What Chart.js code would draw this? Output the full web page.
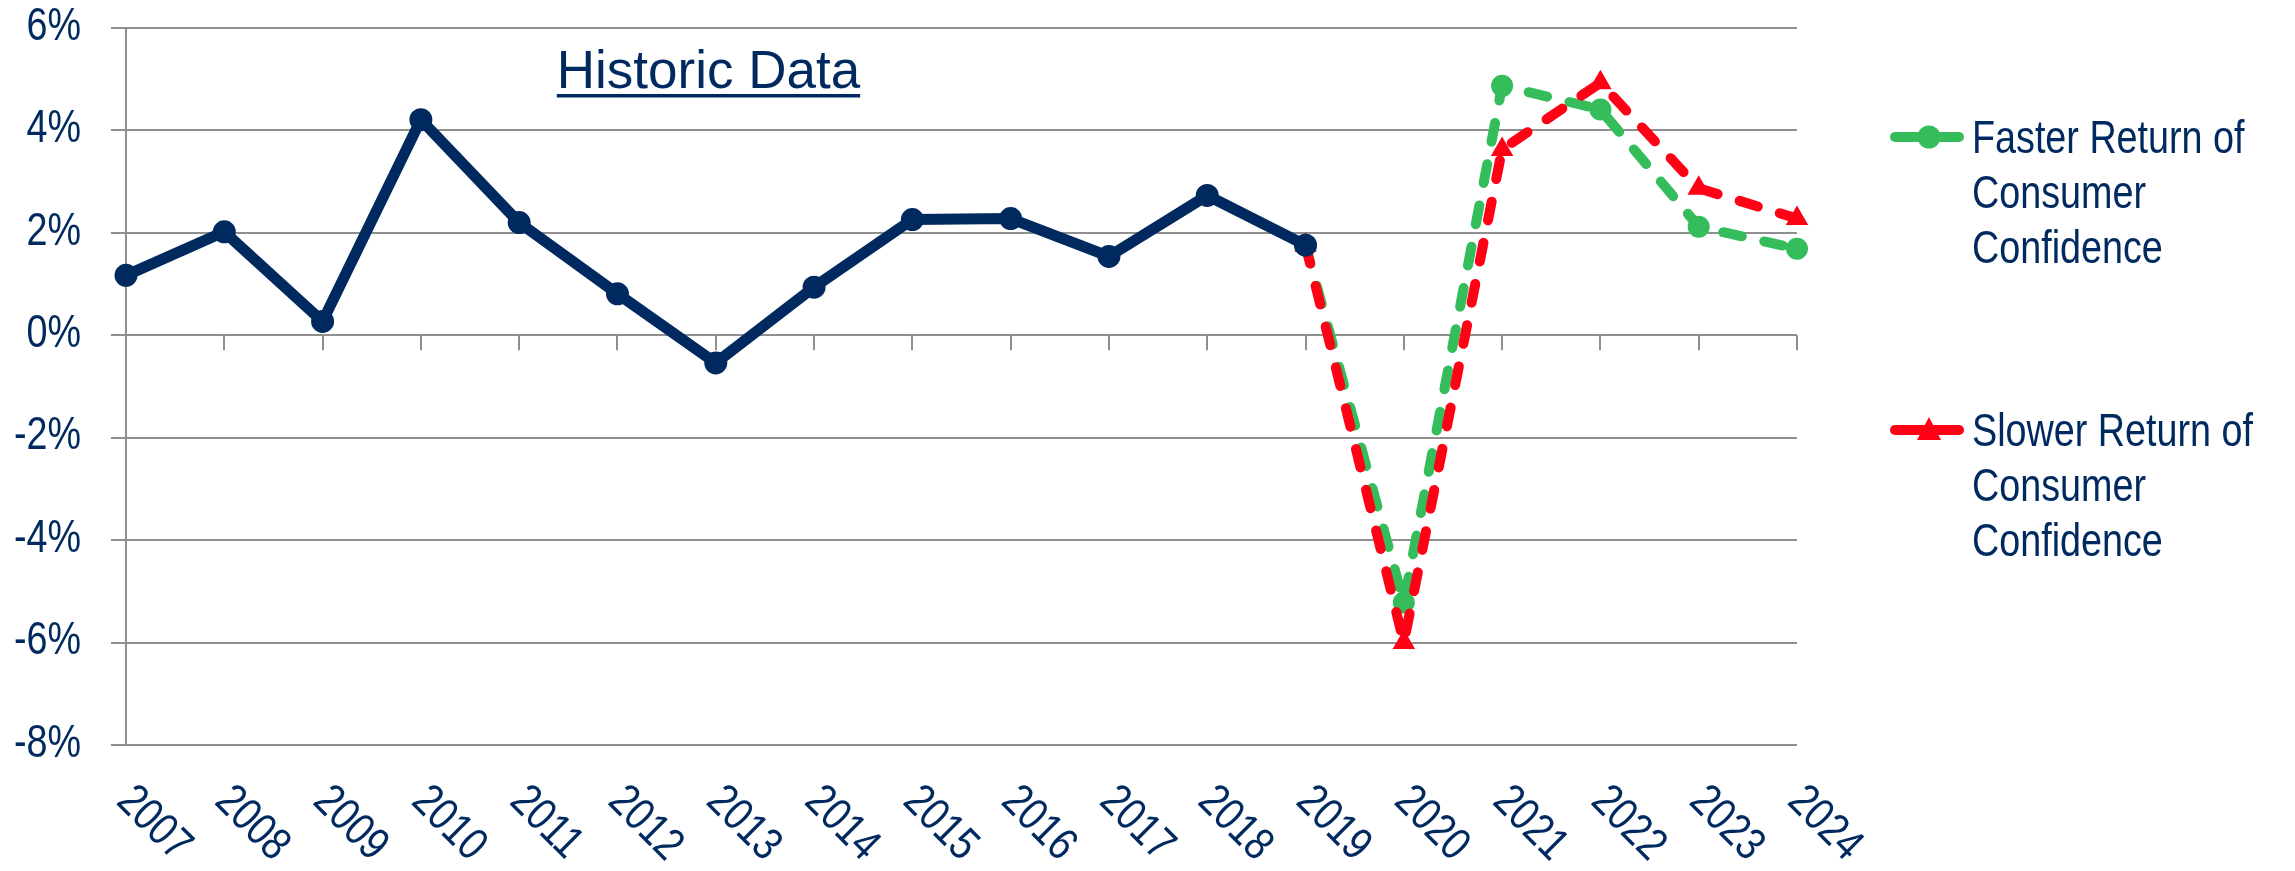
<!DOCTYPE html>
<html>
<head>
<meta charset="utf-8">
<script src="https://cdn.jsdelivr.net/npm/chart.js@4.4.1/dist/chart.umd.min.js"></script>
<style>
  html, body { margin: 0; padding: 0; background: #ffffff; }
  #wrap { position: relative; width: 2295px; height: 871px; }
</style>
</head>
<body>
<div id="wrap"><canvas id="c"></canvas></div>
<script>
// ---- data ----
const years = ['2007','2008','2009','2010','2011','2012','2013','2014','2015','2016','2017','2018','2019','2020','2021','2022','2023','2024'];
const historic = [1.17, 2.02, 0.27, 4.21, 2.20, 0.81, -0.54, 0.94, 2.26, 2.28, 1.54, 2.73, 1.76, null, null, null, null, null];
const fasterReturn = [null, null, null, null, null, null, null, null, null, null, null, null, 1.76, -5.22, 4.87, 4.41, 2.12, 1.69];
const slowerReturn = [null, null, null, null, null, null, null, null, null, null, null, null, 1.76, -6.0, 3.63, 4.93, 2.87, 2.28];
const yTickValues = [-8, -6, -4, -2, 0, 2, 4, 6];
const yTickLabels = ['-8%', '-6%', '-4%', '-2%', '0%', '2%', '4%', '6%'];
const seriesNames = ['Historic Data', 'Faster Return of Consumer Confidence', 'Slower Return of Consumer Confidence'];
const legendLines = [['Faster Return of', 'Consumer', 'Confidence'], ['Slower Return of', 'Consumer', 'Confidence']];
const titleText = 'Historic Data';

// ---- styles ----
const NAVY = '#002a5f';
const GREEN = '#35bd5c';
const RED = '#ff0014';
const GRID = '#8f8f8f';

function hasFont(name) {
  const c = document.createElement('canvas').getContext('2d');
  const s = 'abcdefghijklmnopqrstuvwxyz 0123456789%';
  c.font = '40px monospace';
  const w1 = c.measureText(s).width;
  c.font = '40px "' + name + '", monospace';
  const w2 = c.measureText(s).width;
  return Math.abs(w1 - w2) > 0.5;
}
const narrow = hasFont('Liberation Sans Narrow');
const LABEL_FAMILY = narrow ? '"Liberation Sans Narrow", "Liberation Sans", Arial, sans-serif' : '"Liberation Sans", Arial, sans-serif';
const LABEL_SIZE = 46;
const LABEL_XSCALE = narrow ? 1 : 0.82; // condensed look of the original labels

const extras = {
  id: 'extras',
  afterDraw(chart) {
    const ctx = chart.ctx;
    const xs = chart.scales.x, ys = chart.scales.y;
    const y0 = ys.getPixelForValue(0);
    // x-axis tick marks hanging below the 0% line
    ctx.save();
    ctx.strokeStyle = GRID;
    ctx.lineWidth = 2;
    ctx.beginPath();
    years.forEach((yr, i) => {
      const x = Math.round(xs.getPixelForValue(i));
      ctx.moveTo(x, y0);
      ctx.lineTo(x, y0 + 15);
    });
    ctx.stroke();
    ctx.restore();

    // y tick labels (condensed)
    ctx.save();
    ctx.fillStyle = NAVY;
    ctx.font = LABEL_SIZE + 'px ' + LABEL_FAMILY;
    ctx.textAlign = 'right';
    ctx.textBaseline = 'middle';
    yTickValues.forEach((v, i) => {
      const y = ys.getPixelForValue(v) - 1;
      ctx.save();
      ctx.translate(ys.right - 15 - 30, y);
      ctx.scale(LABEL_XSCALE, 1);
      ctx.fillText(yTickLabels[i], 0, 0);
      ctx.restore();
    });
    ctx.restore();

    // rotated x labels
    ctx.save();
    ctx.fillStyle = NAVY;
    ctx.font = LABEL_SIZE + 'px ' + LABEL_FAMILY;
    ctx.textAlign = 'left';
    ctx.textBaseline = 'middle';
    const labelY = ys.bottom + 49;
    years.forEach((yr, i) => {
      const x = xs.getPixelForValue(i) - 2;
      ctx.save();
      ctx.translate(x, labelY);
      ctx.rotate(Math.PI / 4);
      ctx.scale(LABEL_XSCALE, 1);
      ctx.fillText(yr, 0, 0);
      ctx.restore();
    });
    ctx.restore();

    // title "Historic Data"
    ctx.save();
    ctx.fillStyle = NAVY;
    ctx.font = '53px "Liberation Sans", Arial, sans-serif';
    ctx.textAlign = 'center';
    ctx.textBaseline = 'alphabetic';
    const tx = 708.5, ty = 88;
    ctx.fillText(titleText, tx, ty);
    const tw = ctx.measureText(titleText).width;
    ctx.fillRect(tx - tw / 2, ty + 6, tw, 3.5);
    ctx.restore();

    // legend
    const legendItems = [
      { color: GREEN, style: 'circle', y: 137, lines: legendLines[0], base: 153 },
      { color: RED, style: 'triangle', y: 430, lines: legendLines[1], base: 446 }
    ];
    legendItems.forEach(it => {
      ctx.save();
      ctx.strokeStyle = it.color;
      ctx.fillStyle = it.color;
      ctx.lineWidth = 10;
      ctx.lineCap = 'round';
      ctx.beginPath();
      ctx.moveTo(1895, it.y);
      ctx.lineTo(1959, it.y);
      ctx.stroke();
      ctx.beginPath();
      if (it.style === 'circle') {
        ctx.arc(1929, it.y, 11.5, 0, Math.PI * 2);
      } else {
        ctx.moveTo(1929, it.y - 13);
        ctx.lineTo(1941, it.y + 10);
        ctx.lineTo(1917, it.y + 10);
        ctx.closePath();
      }
      ctx.fill();
      ctx.fillStyle = NAVY;
      ctx.font = LABEL_SIZE + 'px ' + LABEL_FAMILY;
      ctx.textAlign = 'left';
      ctx.textBaseline = 'alphabetic';
      it.lines.forEach((ln, k) => {
        ctx.save();
        ctx.translate(1972, it.base + k * 55);
        ctx.scale(LABEL_XSCALE, 1);
        ctx.fillText(ln, 0, 0);
        ctx.restore();
      });
      ctx.restore();
    });
  }
};

new Chart(document.getElementById('c'), {
  type: 'line',
  data: {
    labels: years,
    datasets: [
      {
        label: seriesNames[0],
        data: historic,
        borderColor: NAVY,
        backgroundColor: NAVY,
        borderWidth: 11,
        borderJoinStyle: 'round',
        pointRadius: 10,
        pointBorderWidth: 3,
        pointBackgroundColor: NAVY,
        pointBorderColor: NAVY,
        pointStyle: 'circle',
        spanGaps: false,
        tension: 0,
        order: 0
      },
      {
        label: seriesNames[1],
        data: fasterReturn,
        borderColor: GREEN,
        backgroundColor: GREEN,
        borderWidth: 10,
        borderDash: [19, 23],
        borderCapStyle: 'round',
        pointRadius: 10,
        pointBorderWidth: 2,
        pointBackgroundColor: GREEN,
        pointBorderColor: GREEN,
        pointStyle: 'circle',
        tension: 0,
        order: 2
      },
      {
        label: seriesNames[2],
        data: slowerReturn,
        borderColor: RED,
        backgroundColor: RED,
        borderWidth: 10,
        borderDash: [19, 23],
        borderCapStyle: 'round',
        pointRadius: 11,
        pointBorderWidth: 2,
        pointBackgroundColor: RED,
        pointBorderColor: RED,
        pointStyle: 'triangle',
        tension: 0,
        order: 1
      }
    ]
  },
  options: {
    responsive: true,
    maintainAspectRatio: false,
    animation: false,
    devicePixelRatio: 1,
    layout: { padding: { left: 0, top: 28, right: 498, bottom: 126 } },
    plugins: {
      legend: { display: false },
      title: { display: false },
      tooltip: { enabled: false }
    },
    scales: {
      x: {
        type: 'category',
        display: false,
        offset: false
      },
      y: {
        min: -8,
        max: 6,
        afterFit(scale) { scale.width = 126; },
        afterBuildTicks(scale) { scale.ticks = yTickValues.map(v => ({ value: v })); },
        border: { display: true, color: GRID, width: 2 },
        grid: {
          color: GRID,
          lineWidth: 2,
          drawTicks: true,
          tickLength: 15,
          tickColor: GRID
        },
        ticks: { display: false }
      }
    }
  },
  plugins: [extras]
});
</script>
</body>
</html>
